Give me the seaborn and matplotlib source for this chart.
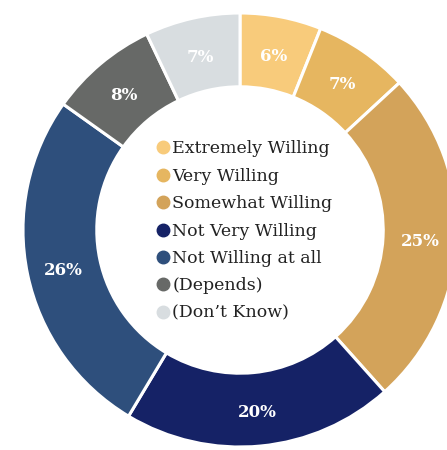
### Donut chart of willingness responses ###

import matplotlib
matplotlib.use("Agg")
import matplotlib.pyplot as plt
from matplotlib.lines import Line2D
import numpy as np
import seaborn as sns

categories = ["Extremely Willing", "Very Willing", "Somewhat Willing",
              "Not Very Willing", "Not Willing at all", "(Depends)", "(Don\u2019t Know)"]
shares = [6, 7, 25, 20, 26, 8, 7]
labels = ["6%", "7%", "25%", "20%", "26%", "8%", "7%"]
colors = ["#F8CB7B", "#E6B660", "#D3A35A", "#152266", "#2E4F7C", "#676967", "#D8DDE0"]


def donut():
    sns.set_style("white")
    plt.rcParams["font.family"] = ["DejaVu Serif"]
    palette = sns.color_palette(colors)

    fig = plt.figure(figsize=(4.47, 4.50), dpi=100)
    ax = fig.add_axes([0, 0, 1, 1])
    wedges, texts = ax.pie(shares, colors=palette, startangle=90, counterclock=False,
                           radius=1.0, wedgeprops=dict(width=0.34, edgecolor="white", linewidth=2.2))

    # percent labels in the middle of the ring
    total = float(sum(shares))
    angle = 90.0
    for val, lab in zip(shares, labels):
        mid = np.radians(angle - 0.5 * val / total * 360)
        ax.text(0.83 * np.cos(mid), 0.83 * np.sin(mid) - 0.015, lab, ha="center", va="center",
                color="white", fontsize=12, fontweight="bold")
        angle -= val / total * 360

    handles = [Line2D([0], [0], marker="o", linestyle="", markersize=9,
                      markerfacecolor=c, markeredgecolor=c) for c in palette]
    ax.legend(handles, categories, loc="center", bbox_to_anchor=(0.015, -0.005),
              bbox_transform=ax.transData, frameon=False, fontsize=12.5,
              handletextpad=0.05, labelspacing=0.6, handlelength=1.0, borderpad=0,
              labelcolor="#222222")

    ax.set_xlim(-240 / 217, 207 / 217)
    ax.set_ylim(-220 / 217, 230 / 217)
    ax.axis("off")
    plt.savefig("out.png", dpi=100)


if __name__ == "__main__":
    donut()
